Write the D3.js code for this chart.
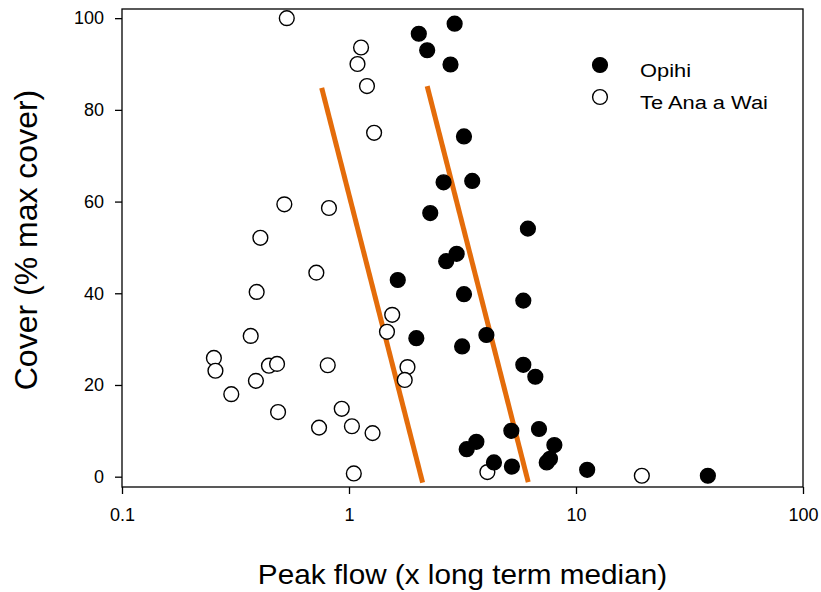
<!DOCTYPE html>
<html>
	<head>
		<meta charset="utf-8">
		<title>Cover vs peak flow</title>
		<style>
			body {
			  margin: 0;
			  background: #fff;
			  overflow: hidden;
			}
			svg {
			  position: absolute;
			  font-family: "Liberation Sans", Arial, sans-serif;
			}
		</style>
		<script src="https://d3js.org/d3.v7.min.js" charset="utf-8"></script>
	</head>
	<body>
		<script>

		// Opihi (filled)
		var opihiFlow  = [2.92, 2.03, 2.21, 2.80, 3.21, 2.61, 3.49, 2.28, 6.14, 2.98,
		                  2.68, 1.64, 3.21, 5.86, 1.98, 3.15, 4.03, 5.86, 6.62, 5.19,
		                  6.87, 3.64, 3.30, 8.03, 7.68, 7.43, 4.35, 5.22, 11.2, 38.1];
		var opihiCover = [98.8, 96.6, 93.0, 89.9, 74.2, 64.2, 64.5, 57.5, 54.1, 48.6,
		                  47.0, 42.9, 39.8, 38.4, 30.2, 28.4, 30.9, 24.4, 21.8, 10.0,
		                  10.4, 7.6, 6.0, 6.9, 3.9, 3.1, 3.1, 2.2, 1.5, 0.2];

		// Te Ana a Wai (open)
		var waiFlow  = [0.532, 1.13, 1.09, 1.20, 1.29, 0.519, 0.816, 0.407, 0.718, 0.392,
		                0.369, 0.254, 0.258, 0.444, 0.482, 0.389, 0.303, 0.806, 0.487, 0.929,
		                0.738, 1.03, 1.27, 1.05, 1.55, 1.47, 1.81, 1.76, 4.07, 19.5];
		var waiCover = [100.0, 93.6, 90.0, 85.2, 75.0, 59.4, 58.6, 52.1, 44.5, 40.3,
		                30.7, 25.9, 23.1, 24.2, 24.6, 20.9, 18.0, 24.3, 14.1, 14.8,
		                10.7, 11.0, 9.5, 0.7, 35.3, 31.6, 23.9, 21.1, 1.0, 0.2];

		// orange threshold lines: [flow, cover] end points
		var lineA = [[0.758, 84.8], [2.11, -1.3]];
		var lineB = [[2.21, 85.2], [6.16, -1.2]];

		var xTicks = [0.1, 1, 10, 100];
		var yTicks = [0, 20, 40, 60, 80, 100];
		var seriesNames = ["Opihi", "Te Ana a Wai"];

		var w = 821,
			h = 592,
			plotL = 122,
			plotR = 803,
			plotT = 9,
			plotB = 487,
			orange = "#e46c0a";

		var svg = d3.select("body").append("svg")
			.attr("width", w)
			.attr("height", h);

		var x = d3.scaleLog().domain([0.1, 100]).range([plotL, plotR]);
		var y = d3.scaleLinear().domain([-2.25, 102]).range([plotB, plotT]);

		// frame
		svg.append("rect")
			.attr("x", plotL).attr("y", plotT)
			.attr("width", plotR - plotL).attr("height", plotB - plotT)
			.attr("fill", "none").attr("stroke", "#000").attr("stroke-width", 1.3);

		var xAxis = svg.append("g")
			.attr("transform", "translate(0," + plotB + ")")
			.call(d3.axisBottom(x).tickValues(xTicks).tickSize(7).tickPadding(14)
				.tickFormat(function(d){ return String(d); }));

		var yAxis = svg.append("g")
			.attr("transform", "translate(" + plotL + ",0)")
			.call(d3.axisLeft(y).tickValues(yTicks).tickSize(7).tickPadding(11));

		[xAxis, yAxis].forEach(function(a){
			a.attr("font-size", null).attr("font-family", null);
			a.select(".domain").remove();
			a.selectAll("line").attr("stroke", "#000").attr("stroke-width", 1.3);
			a.selectAll("text")
				.attr("fill", "#000")
				.style("font-size", "18px");
		});

		// axis titles
		svg.append("text")
			.text("Peak flow (x long term median)")
			.attr("transform", "translate(" + ((plotL + plotR) / 2) + ",584) scale(1.1,1)")
			.attr("text-anchor", "middle")
			.style("font-size", "27px");

		svg.append("text")
			.text("Cover (% max cover)")
			.attr("transform", "translate(37,240) rotate(-90)")
			.attr("text-anchor", "middle")
			.style("font-size", "32px");

		// fitted lines
		var line = d3.line()
			.x(function(d){ return x(d[0]); })
			.y(function(d){ return y(d[1]); });

		svg.selectAll("path.fit")
			.data([lineA, lineB])
			.enter().append("path")
			.attr("class", "fit")
			.attr("d", line)
			.attr("stroke", orange)
			.attr("stroke-width", 5)
			.attr("fill", "none");

		// points
		var r = 7.4;

		svg.selectAll("circle.wai")
			.data(d3.zip(waiFlow, waiCover))
			.enter().append("circle")
			.attr("class", "wai")
			.attr("cx", function(d){ return x(d[0]); })
			.attr("cy", function(d){ return y(d[1]); })
			.attr("r", r)
			.attr("fill", "#fff")
			.attr("stroke", "#000")
			.attr("stroke-width", 1.4);

		svg.selectAll("circle.opihi")
			.data(d3.zip(opihiFlow, opihiCover))
			.enter().append("circle")
			.attr("class", "opihi")
			.attr("cx", function(d){ return x(d[0]); })
			.attr("cy", function(d){ return y(d[1]); })
			.attr("r", r)
			.attr("fill", "#000")
			.attr("stroke", "#000")
			.attr("stroke-width", 1.4);

		// legend
		var legend = svg.selectAll("g.legend")
			.data(seriesNames)
			.enter().append("g")
			.attr("class", "legend")
			.attr("transform", function(d, i){ return "translate(600," + (65 + i * 32) + ")"; });

		legend.append("circle")
			.attr("r", r)
			.attr("fill", function(d, i){ return i === 0 ? "#000" : "#fff"; })
			.attr("stroke", "#000")
			.attr("stroke-width", 1.4);

		legend.append("text")
			.text(function(d){ return d; })
			.attr("transform", "translate(40,12) scale(1.15,1)")
			.style("font-size", "19px");

		</script>
	</body>
</html>
